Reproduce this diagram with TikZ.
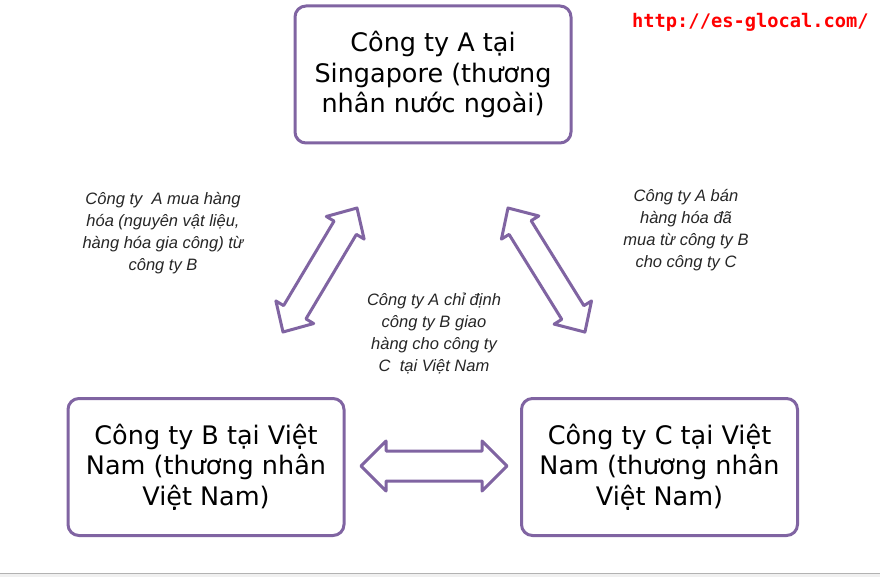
\documentclass[tikz,border=0pt]{standalone}
\usepackage{fontspec}
\setmainfont{DejaVu Sans}
\newfontfamily\lblfont{Liberation Sans}
\newfontfamily\urlfont{DejaVu Sans Mono}
\definecolor{boxpurple}{RGB}{128,100,162}
\tikzset{
  cbox/.style={draw=boxpurple, line width=3pt, rounded corners=11pt, minimum width=276pt,
    minimum height=137pt, align=center, inner sep=0pt, fill=white,
    font=\fontsize{25.5}{30.5}\selectfont},
  lbl/.style={align=center, inner sep=0pt, text=black!85,
    font=\lblfont\itshape\fontsize{16.5}{22}\selectfont},
  arr/.style={draw=boxpurple, line width=3pt, fill=white, line join=round},
  pics/dblarrow/.style n args={4}{code={
    \draw[arr] (0,0) -- (#2,-#3) -- (#2,-#4) -- ({#1-#2},-#4) -- ({#1-#2},-#3) -- (#1,0)
      -- ({#1-#2},#3) -- ({#1-#2},#4) -- (#2,#4) -- (#2,#3) -- cycle;}}
}
\begin{document}
\begin{tikzpicture}[x=1pt,y=-1pt]
\useasboundingbox (0,0) rectangle (880,577);
\fill[white] (0,0) rectangle (880,577);
\fill[black!6] (0,574) rectangle (880,577);
\draw[black!30, line width=1.5pt] (0,573.5) -- (880,573.5);

\node[cbox] (A) at (433,74.5) {Công ty A tại\\Singapore (thương\\nhân nước ngoài)};
\node[cbox] (B) at (206,467) {Công ty B tại Việt\\Nam (thương nhân\\Việt Nam)};
\node[cbox] (C) at (659.5,467) {Công ty C tại Việt\\Nam (thương nhân\\Việt Nam)};

\node[lbl] (l1) at (163,233) {Công ty~ A mua hàng\\hóa (nguyên vật liệu,\\hàng hóa gia công) từ\\công ty B};
\node[lbl] (l2) at (434,334) {Công ty A chỉ định\\công ty B giao\\hàng cho công ty\\C~ tại Việt Nam};
\node[lbl] (l3) at (686,230) {Công ty A bán\\hàng hóa đã\\mua từ công ty B\\cho công ty C};

\node[font=\urlfont\bfseries\fontsize{18.7}{22}\selectfont, text=red, anchor=base west, inner sep=0pt] (url) at (632,28) {http://es-glocal.com/};

\coordinate (ab) at (283,332);
\coordinate (ac) at (508,208);
\coordinate (bc) at (361,466);
\pic[rotate=59.17] at (ab) {dblarrow={144.4}{23}{22}{13}};
\pic[rotate=-58.2] at (ac) {dblarrow={146}{23}{22}{13}};
\pic at (bc) {dblarrow={146}{25}{25}{15}};
\end{tikzpicture}
\end{document}
